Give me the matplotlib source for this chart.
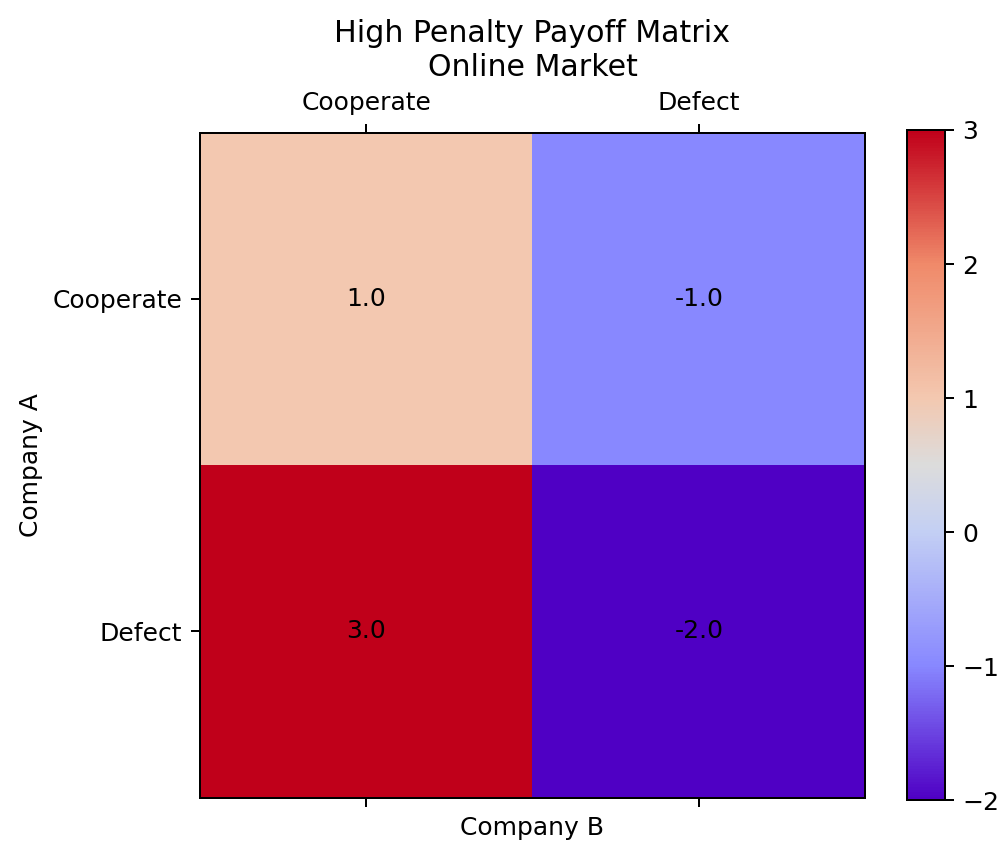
import numpy as np
import matplotlib
matplotlib.use("Agg")
import matplotlib.pyplot as plt
from matplotlib.colors import LinearSegmentedColormap

# payoff matrix data
strategies = ["Cooperate", "Defect"]
payoffs = np.array([[1.0, -1.0],
                    [3.0, -2.0]])
title = "High Penalty Payoff Matrix\nOnline Market"

# colours sampled off the reference colorbar
cmap = LinearSegmentedColormap.from_list(
    "payoff",
    [(0.0, "#4f00c4"), (0.2, "#8888ff"), (0.4, "#c3cff4"), (0.5, "#dcdcdc"),
     (0.6, "#f3c8b0"), (0.8, "#f08a6a"), (1.0, "#c0001a")],
)

DPI = 180
fig = plt.figure(figsize=(1000 / DPI, 844 / DPI), dpi=DPI)
ax = fig.add_axes([0.200, 0.052, 0.665, 0.794])
cax = fig.add_axes([0.907, 0.052, 0.038, 0.794])

im = ax.matshow(payoffs, cmap=cmap, vmin=payoffs.min(), vmax=payoffs.max())
fig.colorbar(im, cax=cax)

for i in range(payoffs.shape[0]):
    for j in range(payoffs.shape[1]):
        ax.text(j, i, f"{payoffs[i, j]:.1f}", ha="center", va="center", color="black")

ax.set_xticks(range(len(strategies)))
ax.set_yticks(range(len(strategies)))
ax.set_xticklabels(strategies)
ax.set_yticklabels(strategies)
ax.set_xlabel("Company B")
ax.set_ylabel("Company A")
ax.set_title(title)

fig.savefig("out.png", dpi=DPI)
